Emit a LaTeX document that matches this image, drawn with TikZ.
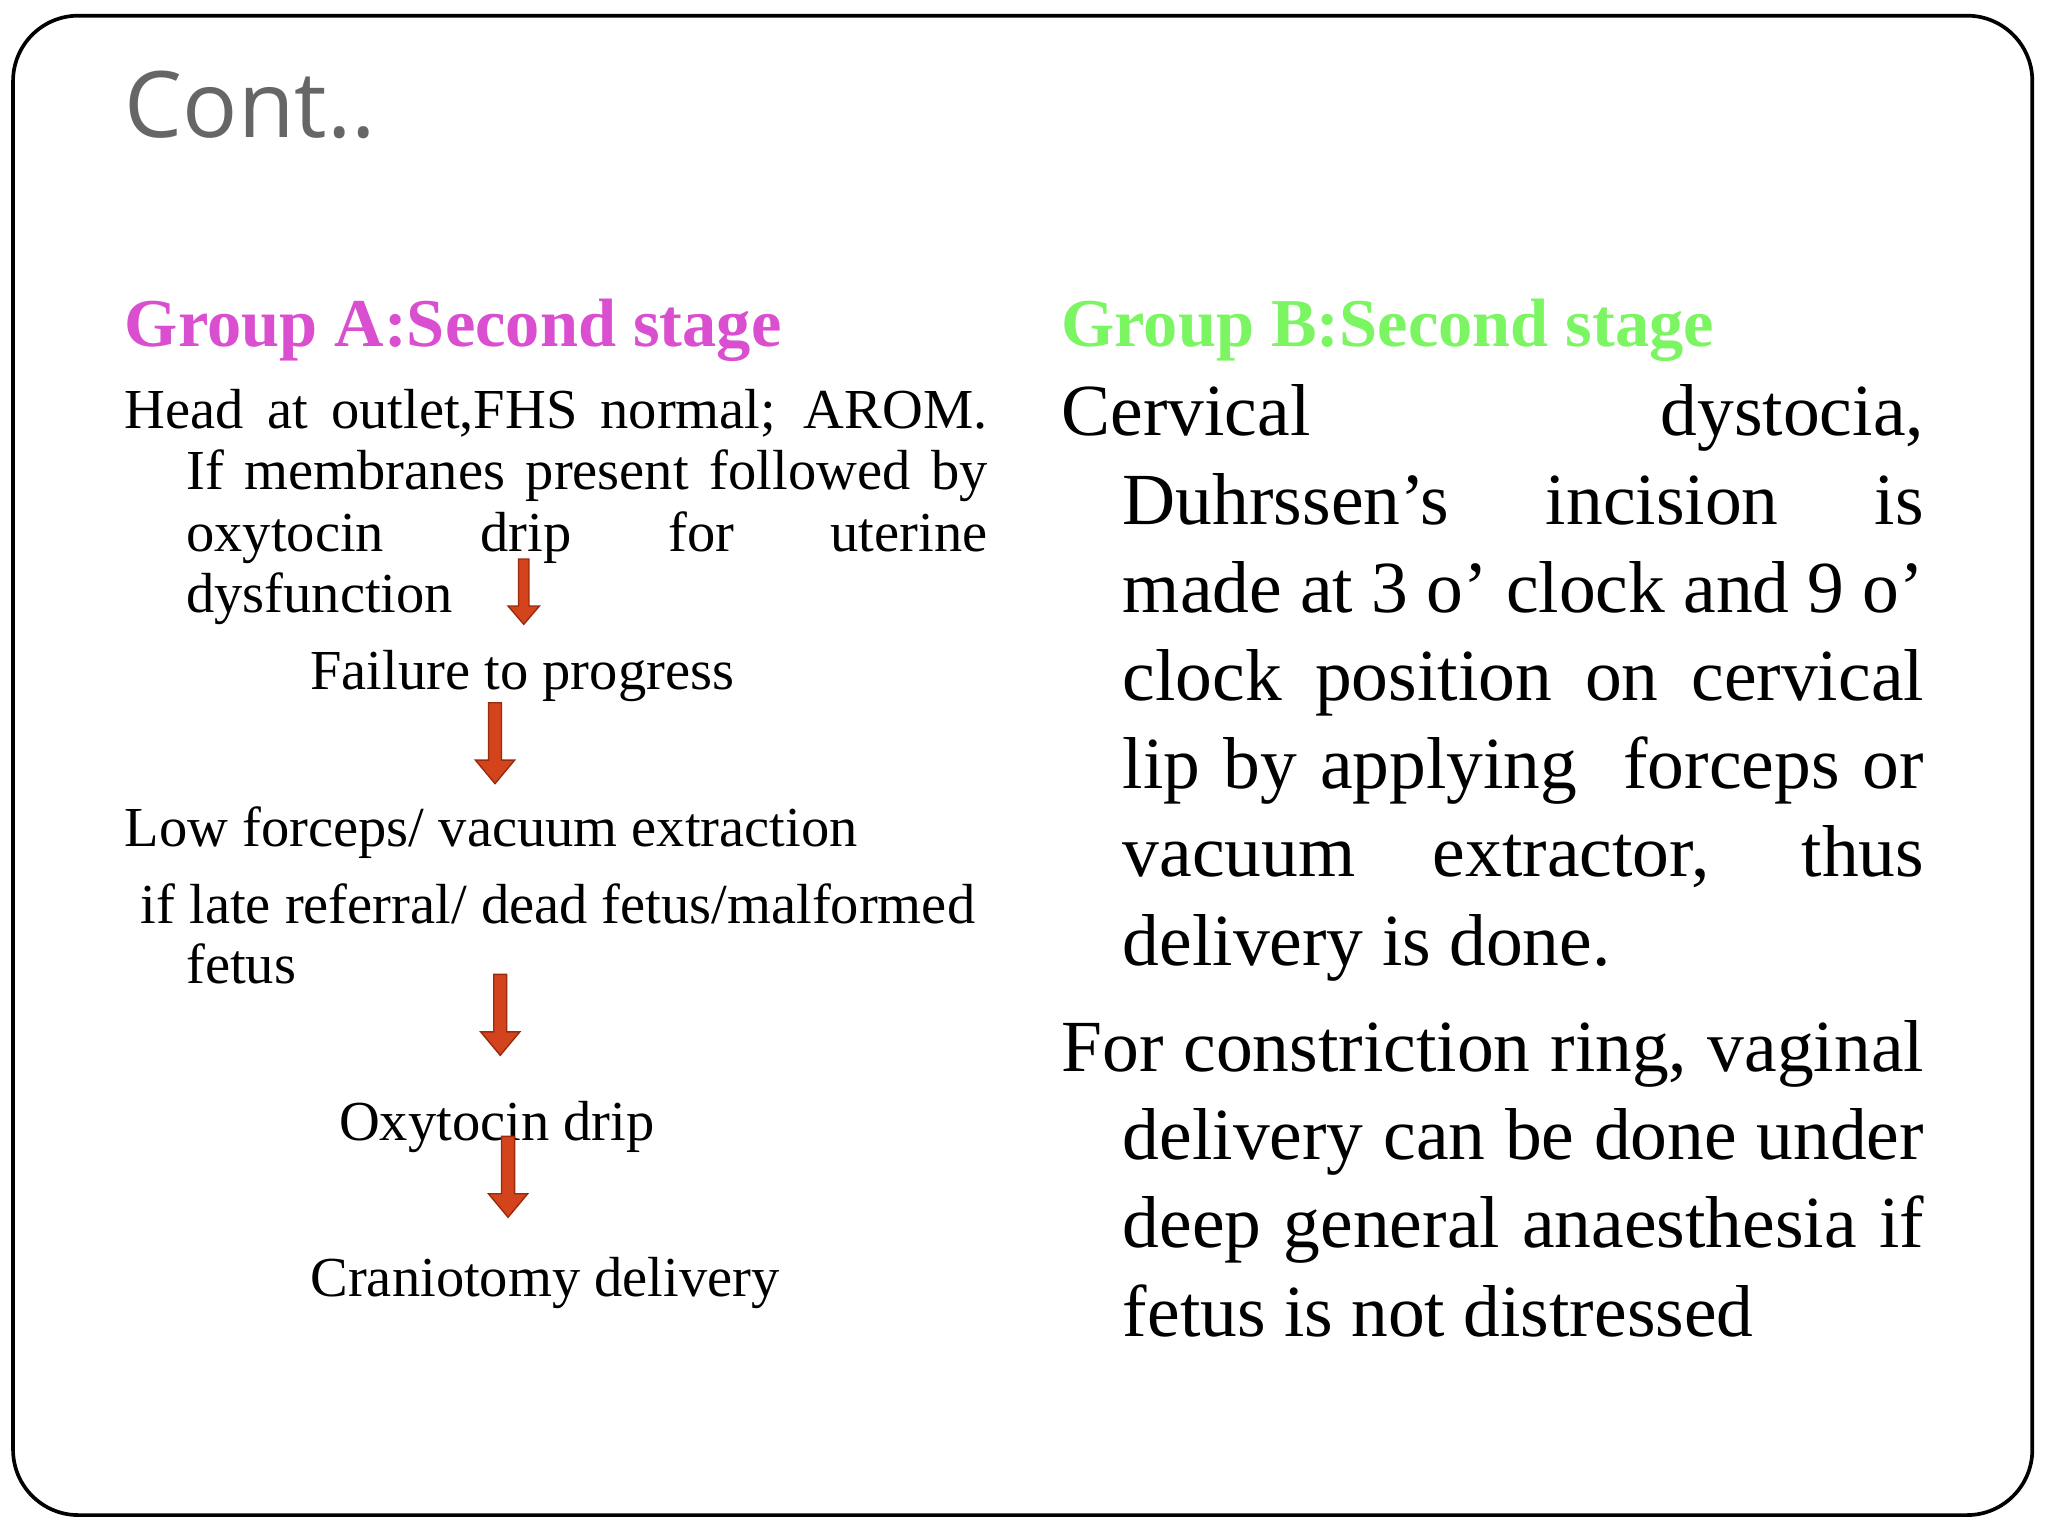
\documentclass[tikz,border=0pt]{standalone}
\usepackage{fontspec}
\setmainfont{Liberation Serif}
\newfontfamily\titlefont{Open Sans}
\definecolor{arr}{HTML}{D3441C}
\definecolor{arrd}{HTML}{9A2A0C}
\definecolor{grpA}{HTML}{D94FD0}
\definecolor{grpB}{HTML}{7CF562}
\tikzset{
 px/.style={x=0.01cm,y=-0.01cm},
 lt/.style={anchor=base west,inner sep=0,font=\fontsize{12.3pt}{13.4pt}\selectfont},
 blk/.pic={\fill[arr,draw=arrd,line width=0.3pt] (-5,0)--(5,0)--(5,44)--(15,44)--(0,62)--(-15,44)--(-5,44)--cycle;},
 blks/.pic={\fill[arr,draw=arrd,line width=0.3pt] (-4,0)--(4,0)--(4,36)--(12,36)--(0,50)--(-12,36)--(-4,36)--cycle;}
}
\begin{document}
\begin{tikzpicture}[px]
\useasboundingbox (0,0) rectangle (1568,1176);
\draw[line width=0.8pt,rounded corners=0.5cm,fill=white] (10,12) rectangle (1556,1160);
\node[anchor=base west,inner sep=0,text=black!60,font=\titlefont\fontsize{20pt}{20pt}\selectfont] (title) at (95,105) {Cont..};
\node[anchor=base west,inner sep=0,text=grpA,font=\bfseries\fontsize{14.9pt}{14pt}\selectfont] (ha) at (95,265) {Group A:Second stage};
\node[anchor=base west,inner sep=0,text=grpB,font=\bfseries\fontsize{14.9pt}{14pt}\selectfont] (hb) at (812,265) {Group B:Second stage};
\node[anchor=north west,inner sep=0,text width=6.6cm,align=justify,font=\fontsize{12.3pt}{13.4pt}\selectfont] (pa) at (95,297)
 {\hangindent=0.47cm\hangafter=1 Head at outlet,FHS normal; AROM.\linebreak If membranes present followed by\linebreak oxytocin drip for uterine\linebreak dysfunction\par};
\node[lt] (f) at (237,528) {Failure to progress};
\node[lt] (lf) at (95,648) {Low forceps/ vacuum extraction};
\node[lt] (lr) at (107,707) {if late referral/ dead fetus/malformed};
\node[lt] (lr2) at (142,753) {fetus};
\node[lt] (od) at (259,873) {Oxytocin drip};
\node[lt] (cd) at (237,993) {Craniotomy delivery};
\pic at (401,428) {blks};
\pic at (379,538) {blk};
\pic at (383,746) {blk};
\pic at (389,870) {blk};
\node[anchor=north west,inner sep=0,text width=6.6cm,align=justify,font=\fontsize{16pt}{19.2pt}\selectfont] (pb) at (812,294)
 {\hangindent=0.47cm\hangafter=1 Cervical dystocia,\linebreak Duhrssen’s incision is\linebreak made at 3 o’ clock and 9 o’\linebreak clock position on cervical\linebreak lip by applying\ \ forceps or\linebreak vacuum extractor, thus\linebreak delivery is done.\par\vspace{4pt}
 \hangindent=0.47cm\hangafter=1 For constriction ring, vaginal\linebreak delivery can be done under\linebreak deep general anaesthesia if\linebreak fetus is not distressed\par};
\end{tikzpicture}
\end{document}
